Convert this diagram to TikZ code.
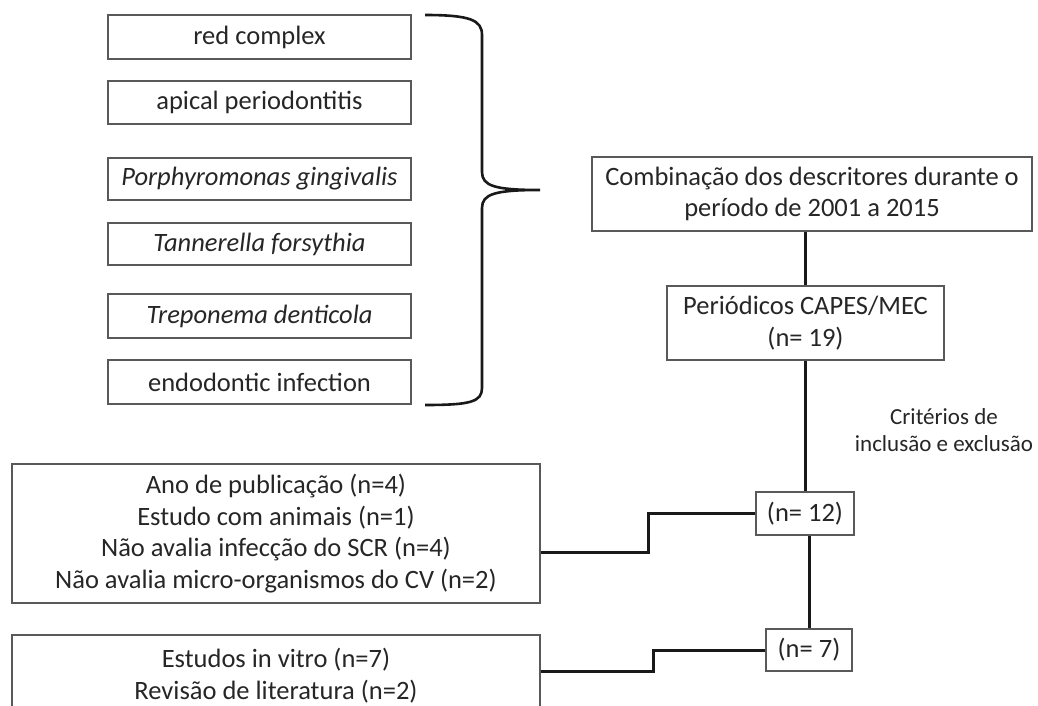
\documentclass[tikz,border=0pt]{standalone}
\usepackage{fontspec}
\setmainfont{Carlito}
\begin{document}
\begin{tikzpicture}[x=1pt,y=-1pt,
  box/.style={draw=black!65,line width=1.6pt,inner sep=0pt,align=center,text=black!85,font=\fontsize{26.5}{31.5}\selectfont},
  conn/.style={draw=black!90,line width=3pt},
  brace/.style={draw=black!90,line width=2.6pt}]
\clip (0,0) rectangle (1038,706);
\fill[white] (0,0) rectangle (1038,706);
% left descriptor boxes
\node[box,minimum width=303pt,minimum height=44pt] (d1) at (259.5,37) {red complex};
\node[box,minimum width=303pt,minimum height=43pt] (d2) at (259.5,102.5) {apical periodontitis};
\node[box,minimum width=303pt,minimum height=42pt] (d3) at (259.5,179) {\itshape Porphyromonas gingivalis};
\node[box,minimum width=303pt,minimum height=42pt] (d4) at (259.5,244) {\itshape Tannerella forsythia};
\node[box,minimum width=303pt,minimum height=44pt] (d5) at (259.5,316) {\itshape Treponema denticola};
\node[box,minimum width=303pt,minimum height=44pt] (d6) at (259.5,382) {endodontic infection};
% brace
\coordinate (bt) at (425,15);
\coordinate (bb) at (425,405);
\coordinate (tip) at (540,190);
\draw[brace] (bt) .. controls (470,15) and (482,20) .. (482,35)
  -- (482,172) .. controls (482,186) and (495,190) .. (tip)
  (tip) .. controls (495,190) and (482,194) .. (482,208)
  -- (482,388) .. controls (482,402) and (470,405) .. (bb);
% right flow
\node[box,minimum width=440pt,minimum height=74pt] (comb) at (812,194) {Combinação dos descritores durante o\\período de 2001 a 2015};
\node[box,minimum width=277pt,minimum height=74pt] (per) at (805.5,323) {Periódicos CAPES/MEC\\(n= 19)};
\node[box,minimum width=98pt,minimum height=43pt] (n12) at (805,513.5) {(n= 12)};
\node[box,minimum width=86pt,minimum height=42pt] (n7) at (809,650) {(n= 7)};
\node[align=center,text=black!85,font=\fontsize{23}{27}\selectfont] (crit) at (944,430) {Critérios de\\inclusão e exclusão};
% exclusion boxes
\node[box,minimum width=528pt,minimum height=139pt] (ex1) at (276,533.5) {Ano de publicação (n=4)\\Estudo com animais (n=1)\\Não avalia infecção do SCR (n=4)\\Não avalia micro-organismos do CV (n=2)};
\node[box,minimum width=528pt,minimum height=90pt,anchor=north] (ex2) at (276,634) {};
\node[align=center,text=black!85,font=\fontsize{26.5}{31.5}\selectfont,anchor=north,inner sep=0pt] (ex2t) at (276,648) {Estudos in vitro (n=7)\\Revisão de literatura (n=2)};
% connectors
\draw[conn] (comb.south -| per.north) -- (per.north);
\draw[conn] (per.south) -- (per.south |- n12.north);
\draw[conn] (n7.north |- n12.south) -- (n7.north);
\coordinate (k1) at (648,552);
\coordinate (k2) at (653,671);
\draw[conn] (ex1.east |- k1) -- (k1) |- (n12.west);
\draw[conn] (ex2.east |- k2) -- (k2) |- (n7.west);
\end{tikzpicture}
\end{document}
